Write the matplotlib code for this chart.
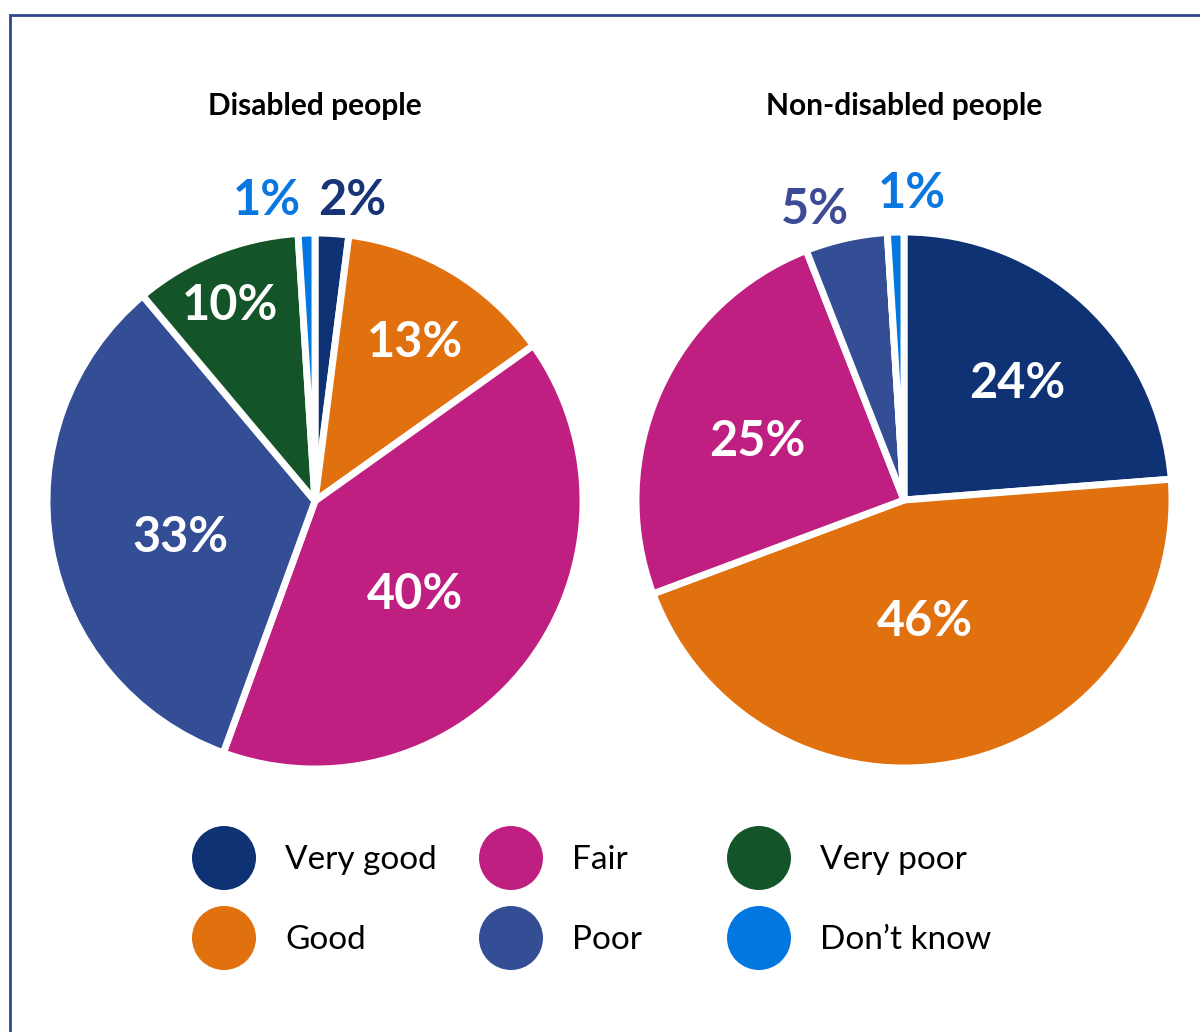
import matplotlib.pyplot as plt
from matplotlib.patches import Circle, Rectangle
import numpy as np

plt.rcParams['font.family'] = ['Lato', 'DejaVu Sans']

# self-rated health, % of each group
categories = ['Very good', 'Good', 'Fair', 'Poor', 'Very poor', 'Don\u2019t know']
disabled = [2, 13, 40, 33, 10, 1]
non_disabled = [24, 46, 25, 5, 0, 1]
titles = ['Disabled people', 'Non-disabled people']

colours = ['#0f3274', '#e1700e', '#c01f82', '#344e95', '#135429', '#0277e0']
outside_colours = ['#173477', '#e1700e', '#c01f82', '#3d4a95', '#135429', '#0a77e0']

# label placement per slice: (distance in radii, angle nudge in degrees)
disabled_lab = [(1.13, -3.4), (0.70, -1.3), (0.51, -5.7), (0.52, 5.0), (0.795, 1.6), (1.135, 7.2)]
non_disabled_lab = [(0.605, -1.5), (0.46, -2.5), (0.59, 2.5), (1.135, 4.5), (0, 0), (1.145, -3.3)]

W, H = 1200, 1032
fig = plt.figure(figsize=(W / 100, H / 100), dpi=100)
ax = fig.add_axes([0, 0, 1, 1])

R = 268


def draw_pie(values, centre, lab_pos, title):
    cx, cy = centre[0], H - centre[1]
    wedges, _ = ax.pie(values, colors=colours, startangle=90, counterclock=False,
                       radius=R, center=(cx, cy), explode=[0.015] * len(values),
                       wedgeprops=dict(edgecolor='white', linewidth=5, joinstyle='round'))
    for i, (w, v) in enumerate(zip(wedges, values)):
        if v == 0:
            continue
        dist, nudge = lab_pos[i]
        ang = np.deg2rad((w.theta1 + w.theta2) / 2 + nudge)
        x = cx + dist * R * np.cos(ang)
        y = cy + dist * R * np.sin(ang)
        col = 'white' if dist < 1 else outside_colours[i]
        ax.text(x, y, f'{v}%', ha='center', va='center', fontsize=35,
                fontweight='bold', color=col)
    ax.text(centre[0], H - 106, title, ha='center', va='center',
            fontsize=21.5, fontweight='bold', color='black')


draw_pie(disabled, (315, 501), disabled_lab, titles[0])
draw_pie(non_disabled, (904, 500), non_disabled_lab, titles[1])

# legend: three columns, two rows
col_x = [224, 511, 759]
row_y = [858, 938]
for i, (name, c) in enumerate(zip(categories, colours)):
    x = col_x[i // 2]
    y = H - row_y[i % 2]
    ax.add_patch(Circle((x, y), 32, color=c, lw=0))
    ax.text(x + 61, y - 2, name, ha='left', va='center', fontsize=24, color='black')

# outer frame
ax.add_patch(Rectangle((10, -20), W + 20, H - 15 + 20, fill=False,
                       edgecolor='#2f4a8a', linewidth=2))

ax.set_xlim(0, W)
ax.set_ylim(0, H)
ax.set_aspect('auto')
ax.set_axis_off()

plt.savefig('out.png', dpi=100)
